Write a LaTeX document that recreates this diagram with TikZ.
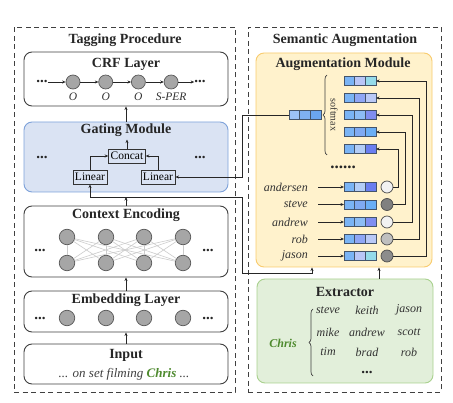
\documentclass[tikz,border=0pt]{standalone}
\usepackage{fontspec}
\setmainfont{Liberation Serif}
\usepackage{xcolor}
\usepackage{tikz}
\usetikzlibrary{arrows.meta, positioning, decorations.pathreplacing}

\definecolor{gatefill}{HTML}{DAE3F3}
\definecolor{gateedge}{HTML}{7EA2DA}
\definecolor{augfill}{HTML}{FFF2CC}
\definecolor{augedge}{HTML}{F8CB6E}
\definecolor{extfill}{HTML}{E2EFDA}
\definecolor{extedge}{HTML}{A9D18E}
\definecolor{chrisgreen}{HTML}{4E8A2E}
\definecolor{vecedge}{HTML}{44546A}
\definecolor{vA}{HTML}{7AB4F5}
\definecolor{midq}{HTML}{7FB0F2}  \definecolor{endq}{HTML}{6BA6F0}  \definecolor{startq}{HTML}{9CC2F7}
\definecolor{mid1}{HTML}{B9C6F7}  \definecolor{end1}{HTML}{95DBEA}
\definecolor{mid2}{HTML}{8FA6F5}  \definecolor{end2}{HTML}{B9C9F7}
\definecolor{mid3}{HTML}{8CBCF5}  \definecolor{end3}{HTML}{7F8EF0}
\definecolor{mid4}{HTML}{7FAAF2}  \definecolor{end4}{HTML}{6AAEF5}
\definecolor{mid5}{HTML}{B3CDF7}  \definecolor{end5}{HTML}{6A7EF0}

% three-cell vector: name, centre of middle cell, three fills
\newcommand{\wvec}[5]{%
  \node[cell, fill=#4] (#1-b) at (#2) {};
  \node[cell, fill=#3, left=0pt of #1-b] (#1-a) {};
  \node[cell, fill=#5, right=0pt of #1-b] (#1-c) {};}

\begin{document}
\begin{tikzpicture}[x=1pt, y=-1pt,
    outerbox/.style={draw=black!75, line width=0.9pt, dash pattern=on 5pt off 3.5pt},
    layerbox/.style={draw=black!75, line width=0.9pt, rounded corners=8pt, fill=white, minimum width=204pt},
    title/.style={font=\fontsize{14}{16}\selectfont\bfseries, text=black!85},
    opbox/.style={draw=black!80, line width=0.9pt, font=\fontsize{11.5}{13}\selectfont, inner sep=2pt, minimum height=14pt},
    neuron/.style={circle, draw=black!65, fill=black!35, line width=0.7pt, minimum size=14pt, inner sep=0},
    bigneuron/.style={neuron, minimum size=15.5pt},
    dots/.style={font=\fontsize{15}{15}\selectfont\bfseries, inner sep=0, text=black!85},
    tag/.style={font=\fontsize{11.5}{13}\selectfont\itshape, text=black!80, inner sep=0},
    word/.style={font=\fontsize{12}{13}\selectfont\itshape, text=black!80, inner sep=0},
    cell/.style={draw=vecedge, line width=0.7pt, minimum width=10.7pt, minimum height=9pt, inner sep=0, outer sep=0},
    weight/.style={circle, draw=black!70, line width=0.7pt, minimum size=12pt, inner sep=0},
    arrow/.style={-{Stealth[length=3.5pt, width=3pt]}, line width=0.8pt, draw=black!85},
    mesh/.style={draw=black!20, line width=0.6pt},
    brace/.style={decorate, decoration={brace, amplitude=4pt}, line width=0.7pt, draw=black!75}
]
\useasboundingbox (0,0) rectangle (453,403);

% Outer frames
\node[outerbox, minimum width=221pt, minimum height=365pt] (tagging) at (124.5,209.5) {};
\node[outerbox, minimum width=193pt, minimum height=365pt] (semantic) at (344.5,209.5) {};
\node[title] (tagtitle) at (125,40) {Tagging Procedure};
\node[title] (semtitle) at (345,40) {Semantic Augmentation};

% CRF layer
\node[layerbox, minimum height=54pt] (crf) at (126,79) {};
\node[title] (crftitle) at (126,64) {CRF Layer};
\node[neuron, label={[tag, label distance=3.5pt]below:O}] (o1) at (73,82) {};
\node[neuron, right=18pt of o1, label={[tag, label distance=3.5pt]below:O}] (o2) {};
\node[neuron, right=18pt of o2, label={[tag, label distance=3.5pt]below:O}] (o3) {};
\node[neuron, right=18pt of o3, label={[tag, label distance=3.5pt]below:S-PER}] (o4) {};
\node[dots] (crfl) at (42,82) {...};
\node[dots] (crfr) at (200,82) {...};
\draw[arrow] (crfl) -- (o1);
\draw[arrow] (o1) -- (o2);
\draw[arrow] (o2) -- (o3);
\draw[arrow] (o3) -- (o4);
\draw[arrow] (o4) -- (crfr);

% Gating module
\node[layerbox, fill=gatefill, draw=gateedge, minimum height=70pt] (gate) at (126,157) {};
\node[title] (gatetitle) at (126,130) {Gating Module};
\node[opbox] (concat) at (127,156) {Concat};
\node[opbox] (linL) at (90,177) {Linear};
\node[opbox] (linR) at (158,177) {Linear};
\node[dots] (gatel) at (42,157) {...};
\node[dots] (gater) at (200,157) {...};
\draw[arrow] (linL.north) |- (concat.west);
\draw[arrow] (linR.north) |- (concat.east);
\draw[arrow] (concat.north) -- ++(0,9pt);
\draw[arrow] (gate) -- (crf);

% Context encoding and embedding layer
\node[layerbox, minimum height=71pt] (ctx) at (126,241.5) {};
\node[title] (ctxtitle) at (126,215) {Context Encoding};
\node[layerbox, minimum height=41pt] (emb) at (126,311.5) {};
\node[title] (embtitle) at (126,300) {Embedding Layer};
\foreach \i/\x in {1/67,2/106,3/144,4/183} {
  \node[bigneuron] (t\i) at (\x,237) {};
  \node[bigneuron] (b\i) at (\x,263) {};
  \node[bigneuron] (e\i) at (\x,318) {};
}
\foreach \i in {1,...,4}
  \foreach \j in {1,...,4}
    \draw[mesh] (t\i) -- (b\j);
\node[dots] (ctxl) at (40,250) {...};
\node[dots] (ctxr) at (208,250) {...};
\node[dots] (embl) at (40,318) {...};
\node[dots] (embr) at (208,318) {...};

% Input
\node[layerbox, minimum height=40pt] (inp) at (126,364) {};
\node[title] (inptitle) at (126,355) {Input};
\node[tag, font=\fontsize{13}{14}\selectfont\itshape, text=black!75] (sentence) at (124,374) {... on set filming \textbf{\color{chrisgreen}Chris} ...};
\draw[arrow] (inp) -- (emb);
\draw[arrow] (emb) -- (ctx);

% Augmentation module
\node[layerbox, fill=augfill, draw=augedge, minimum width=176pt, minimum height=214pt] (aug) at (344,160) {};
\node[title] (augtitle) at (343,64) {Augmentation Module};
\wvec{query}{305,115}{startq}{midq}{endq}
\foreach \p/\y in {1/81,2/98,3/115,4/132,5/149} {
  \wvec{top\p}{360,\y}{vA}{mid\p}{end\p}
}
\draw[brace] (327,155) -- (327,75);
\node[rotate=-90, font=\fontsize{10}{11}\selectfont, text=black!80] (softmax) at (334,115) {softmax};
\node[dots, font=\fontsize{17}{17}\selectfont\bfseries] (augdots) at (343,167) {......};
\foreach \w/\p/\y/\g/\dx in {andersen/5/187/black!5/22pt, steve/4/204.5/black!50/29pt, andrew/3/222/black!5/36pt, rob/2/239/black!25/43pt, jason/1/256/black!45/50pt} {
  \node[word, anchor=east] (\w) at (308,\y) {\w};
  \wvec{v\w}{360,\y}{vA}{mid\p}{end\p}
  \draw[arrow] ([xshift=10pt]\w.east) -- (v\w-a.west);
  \node[weight, fill=\g] (g\w) at (387,\y) {};
  \draw[arrow] (g\w) -| ([xshift=\dx]top\p-c.east) -- (top\p-c.east);
}

% Extractor
\node[layerbox, fill=extfill, draw=extedge, minimum width=176pt, minimum height=104pt] (ext) at (345,331) {};
\node[title] (exttitle) at (345,292) {Extractor};
\node[word, font=\fontsize{12}{13}\selectfont\bfseries\itshape, text=chrisgreen] (chris) at (283,343) {Chris};
\draw[brace] (313,376) -- (313,309);
\node[word] (x1) at (328,310) {steve};
\node[word] (x2) at (367,310) {keith};
\node[word] (x3) at (409,310) {jason};
\node[word] (x4) at (328,332) {mike};
\node[word] (x5) at (367,332) {andrew};
\node[word] (x6) at (409,332) {scott};
\node[word] (x7) at (328,352) {tim};
\node[word] (x8) at (367,352) {brad};
\node[word] (x9) at (409,352) {rob};
\node[dots] (extdots) at (367,372) {...};
\draw[arrow] ([xshift=34pt]ext.north) -- ([xshift=35pt]aug.south);

% Links between the two parts
\coordinate (join) at (126,197);
\draw[arrow] (ctx) -- (join);
\draw[arrow] (join) -| (linL);
\draw[arrow] (join) -| (242,273) -| ([xshift=-32pt]aug.south);
\draw[arrow] (query-a.west) -- ++(-47pt,0) |- (linR);

\end{tikzpicture}
\end{document}
